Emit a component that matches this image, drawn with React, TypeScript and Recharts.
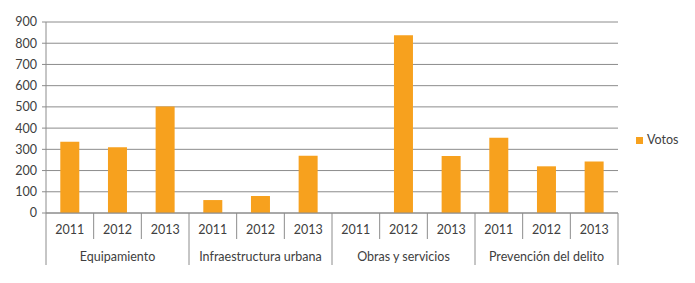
import React from 'react';
import { BarChart, Bar, XAxis, YAxis, CartesianGrid, Legend } from 'recharts';

const years = ['2011', '2012', '2013', '2011', '2012', '2013', '2011', '2012', '2013', '2011', '2012', '2013'];
const groups = [
  'Equipamiento', 'Equipamiento', 'Equipamiento',
  'Infraestructura urbana', 'Infraestructura urbana', 'Infraestructura urbana',
  'Obras y servicios', 'Obras y servicios', 'Obras y servicios',
  'Prevención del delito', 'Prevención del delito', 'Prevención del delito',
];
const votos = [336, 310, 502, 61, 80, 270, 0, 837, 268, 355, 220, 243];
const yTicks = [0, 100, 200, 300, 400, 500, 600, 700, 800, 900];

const data = years.map((y, i) => ({ year: y, group: groups[i], Votos: votos[i] }));

const W = 695;
const H = 283;
const MARGIN = { top: 22, right: 20, bottom: 18, left: 0 };
const YAXIS_W = 46;
const LEGEND_W = 57;
const PLOT_W = W - MARGIN.left - MARGIN.right - YAXIS_W - LEGEND_W;
const BAND = PLOT_W / data.length;
const TEXT = '#404040';
const LINE = '#8c8c8c';
const BAR = '#F7A11E';
const FONT = 'Lato, "Open Sans", sans-serif';
const FS = 12.5;

const XTick = (props: any) => {
  const { x, y, payload } = props;
  const i = payload.index;
  const short = 26;
  const long = 52;
  const rightLong = i % 3 === 2;
  return (
    <g>
      {i === 0 && <line x1={x - BAND / 2} x2={x - BAND / 2} y1={y} y2={y + long} stroke={LINE} />}
      <line x1={x + BAND / 2} x2={x + BAND / 2} y1={y} y2={y + (rightLong ? long : short)} stroke={LINE} />
      <text x={x} y={y + 21} textAnchor="middle" fill={TEXT} fontSize={FS} fontFamily={FONT}>
        {payload.value}
      </text>
      {i % 3 === 1 && (
        <text x={x} y={y + 48} textAnchor="middle" fill={TEXT} fontSize={FS} fontFamily={FONT}>
          {groups[i]}
        </text>
      )}
    </g>
  );
};

export default function App() {
  return (
    <div style={{ position: 'absolute', left: 0, top: 0 }}>
      <BarChart width={W} height={H} data={data} margin={MARGIN} barCategoryGap="30%" style={{ fontFamily: FONT }}>
        <CartesianGrid vertical={false} stroke={LINE} strokeWidth={1} />
        <XAxis
          dataKey="year"
          interval={0}
          height={52}
          tickLine={false}
          tickSize={0}
          tickMargin={0}
          axisLine={{ stroke: LINE }}
          tick={<XTick />}
        />
        <YAxis
          domain={[0, 900]}
          ticks={yTicks}
          width={YAXIS_W}
          interval={0}
          tickSize={4}
          tickMargin={5}
          tickLine={{ stroke: LINE }}
          axisLine={{ stroke: LINE }}
          tick={{ fill: TEXT, fontSize: FS, fontFamily: FONT }}
        />
        <Legend
          layout="vertical"
          align="right"
          verticalAlign="middle"
          iconType="square"
          iconSize={7}
          wrapperStyle={{ left: 636, top: 132, width: LEGEND_W, fontSize: FS, fontFamily: FONT }}
          formatter={(v: any) => <span style={{ color: TEXT }}>{v}</span>}
        />
        <Bar dataKey="Votos" fill={BAR} isAnimationActive={false} />
      </BarChart>
    </div>
  );
}
